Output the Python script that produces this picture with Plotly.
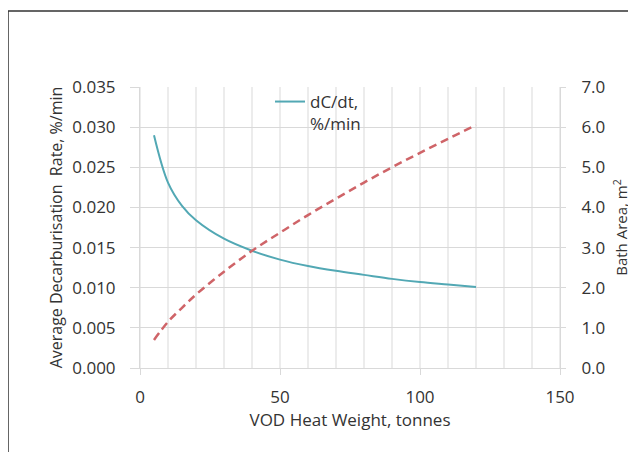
import plotly.graph_objects as go

weight = [5, 10, 15, 20, 30, 40, 50, 60, 70, 80, 90, 100, 110, 120]
dcdt = [0.0290, 0.0231, 0.0202, 0.0184, 0.0161, 0.0146, 0.0135, 0.0127, 0.0121, 0.0116, 0.0111, 0.0107, 0.0104, 0.0101]
bath_area = [0.70, 1.15, 1.50, 1.83, 2.40, 2.92, 3.37, 3.81, 4.22, 4.62, 5.00, 5.36, 5.71, 6.05]

x_ticks = [0, 50, 100, 150]
y1_ticks = [0.000, 0.005, 0.010, 0.015, 0.020, 0.025, 0.030, 0.035]
y2_ticks = [0.0, 1.0, 2.0, 3.0, 4.0, 5.0, 6.0, 7.0]

FONT = "Open Sans"
TXT = "#333333"
GRID = "#d9d9d9"

# page body has an 8px margin: plot area wanted at x 140..560, y 87..368
L, T, PW, PH = 132, 79, 420, 281
W, H = 636, 452

fig = go.Figure()
fig.add_trace(go.Scatter(x=weight, y=dcdt, mode="lines", name="dC/dt,<br>%/min",
                         line=dict(color="#52a8b4", width=2, shape="spline"), yaxis="y"))
fig.add_trace(go.Scatter(x=weight, y=bath_area, mode="lines", name="Bath Area",
                         showlegend=False,
                         line=dict(color="#cf6468", width=2.5, dash="8px,5px", shape="spline"),
                         yaxis="y2"))

for xv in range(0, 151, 10):
    fig.add_shape(type="line", xref="x", yref="paper", x0=xv, x1=xv, y0=0, y1=1,
                  line=dict(color=GRID, width=1), layer="below")

fig.update_layout(
    width=W, height=H,
    margin=dict(l=L, r=W - L - PW, t=T, b=H - T - PH),
    paper_bgcolor="white", plot_bgcolor="white",
    font=dict(family=FONT, size=17, color=TXT),
    xaxis=dict(range=[0, 150], tickvals=x_ticks, ticktext=[str(v) for v in x_ticks],
               showgrid=False, zeroline=False, showline=True, linecolor=GRID, linewidth=1,
               ticks="outside", ticklen=6, tickcolor=GRID, ticklabelstandoff=8,
               automargin=False,
               tickfont=dict(family=FONT, size=17, color=TXT),
               title=dict(text="VOD Heat Weight, tonnes", standoff=5,
                          font=dict(family=FONT, size=17, color=TXT))),
    yaxis=dict(range=[0, 0.035], tickvals=y1_ticks, ticktext=[f"{v:.3f}" for v in y1_ticks],
               showgrid=True, gridcolor=GRID, zeroline=False, showline=True, linecolor=GRID,
               ticks="outside", ticklen=9, tickcolor=GRID, ticklabelstandoff=11,
               automargin=False,
               tickfont=dict(family=FONT, size=17, color=TXT),
               title=dict(text="Average Decarburisation  Rate, %/min", standoff=5,
                          font=dict(family=FONT, size=16, color=TXT))),
    yaxis2=dict(range=[0, 7], tickvals=y2_ticks, ticktext=[f"{v:.1f}" for v in y2_ticks],
                overlaying="y", side="right", showgrid=False, zeroline=False,
                showline=True, linecolor=GRID, ticks="outside", ticklen=5, tickcolor=GRID,
                ticklabelstandoff=12, automargin=False,
                tickfont=dict(family=FONT, size=17, color=TXT),
                title=dict(text="Bath Area, m<sup>2</sup>", standoff=12,
                           font=dict(family=FONT, size=15, color=TXT))),
    legend=dict(x=(311 - 41 - 140) / PW, y=1 + (87 - 84) / PH, xanchor="left", yanchor="top",
                bgcolor="rgba(255,255,255,0)", valign="top",
                font=dict(family=FONT, size=17, color=TXT), itemwidth=30,
                tracegroupgap=0),
    showlegend=True,
)

# outer frame (left and top edges visible, right/bottom off canvas)
fig.add_shape(type="rect", xref="paper", yref="paper",
              x0=(8 - 140) / PW, x1=1.6, y0=-0.6, y1=1 + (87 - 11) / PH,
              line=dict(color="#333333", width=1.5), layer="below")

fig.write_html("out.html")
